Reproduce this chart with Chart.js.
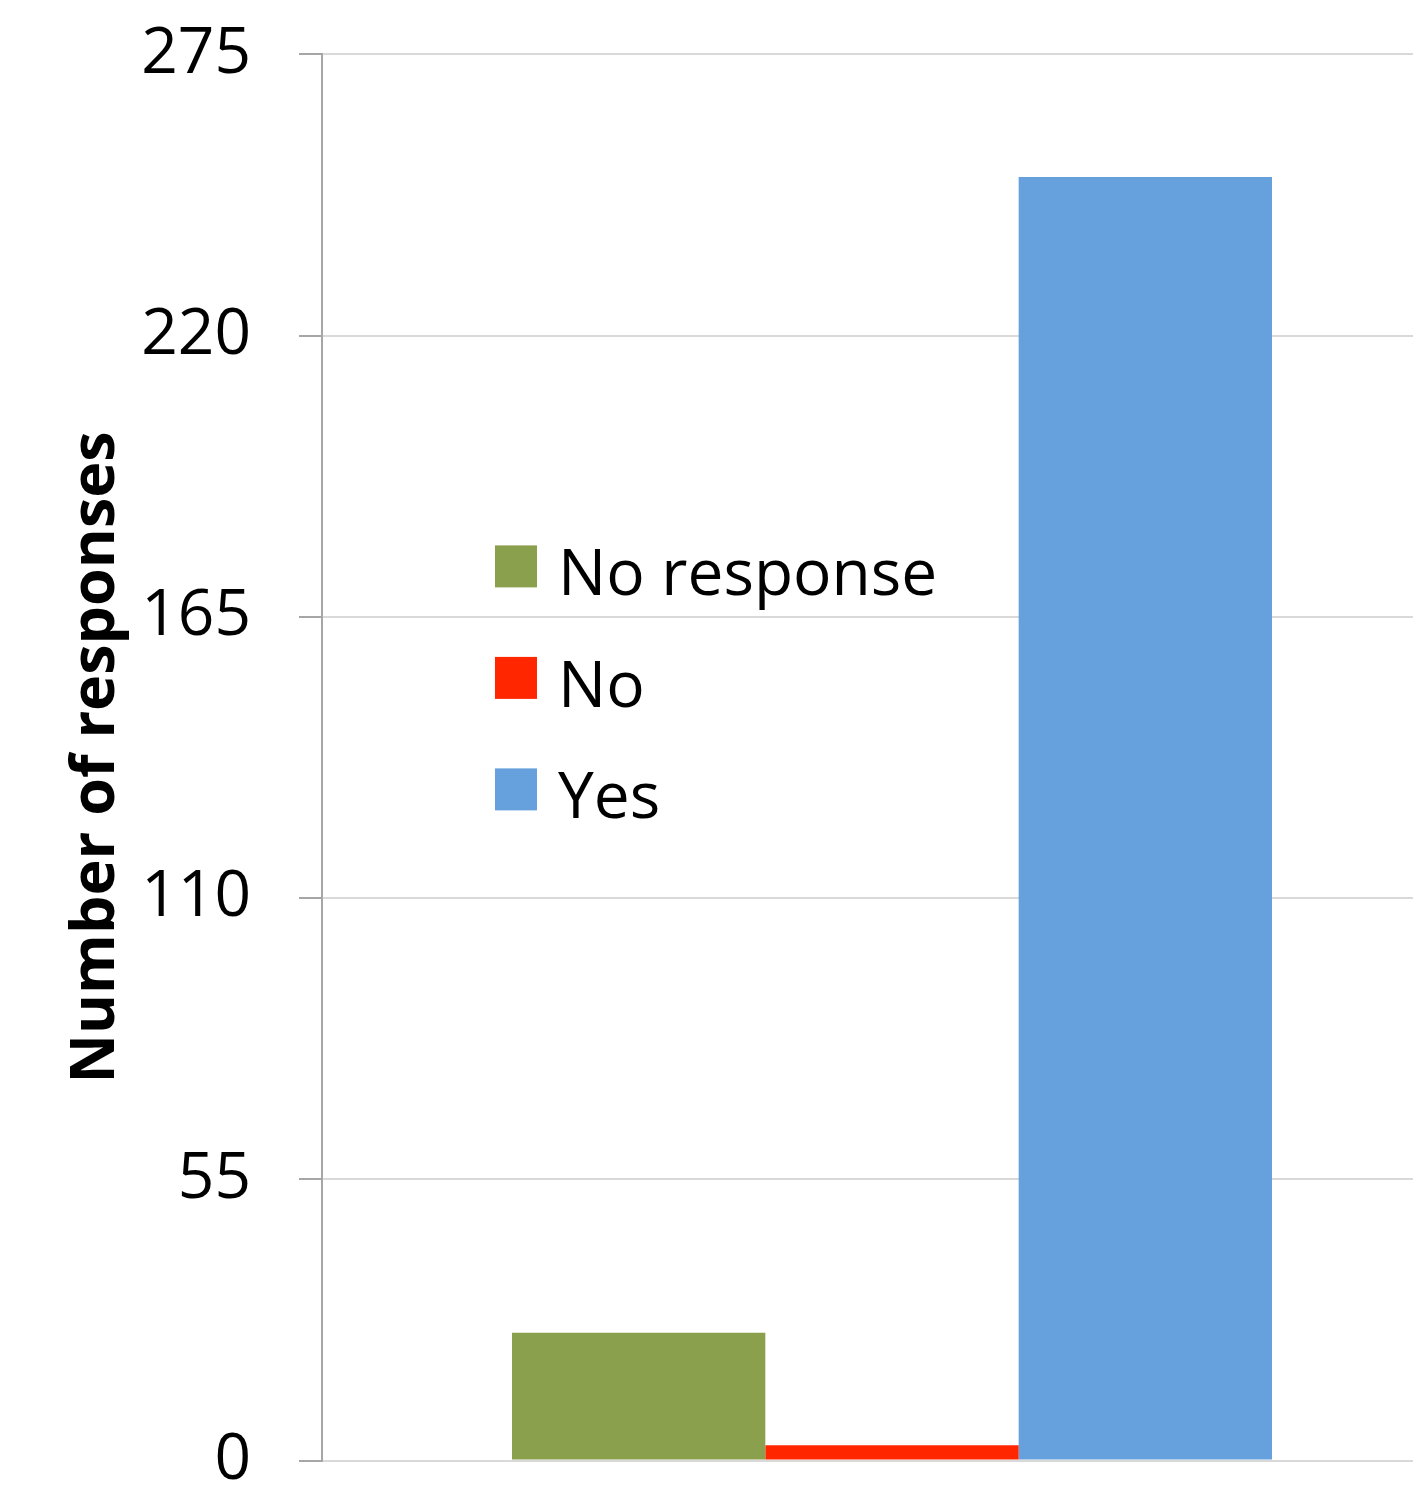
<!DOCTYPE html>
<html>
<head>
<meta charset="utf-8">
<script src="https://cdn.jsdelivr.net/npm/chart.js@4/dist/chart.umd.min.js"></script>
<style>
  html, body { margin: 0; padding: 0; background: #fff; }
  #wrap { width: 1413px; height: 1498px; overflow: hidden; }
  #responsesChart { display: block; margin-top: -32px; }
</style>
</head>
<body>
<div id="wrap"><canvas id="responsesChart" width="1462" height="1579"></canvas></div>
<script>
const categories = [''];
const seriesNames = ['No response', 'No', 'Yes'];
const seriesValues = [[25], [3], [251]];
const seriesColors = ['#8aa04c', '#ff2600', '#66a1de'];
const yTickValues = [0, 55, 110, 165, 220, 275];

const FONT = "'Open Sans', sans-serif";

// legend drawn inside the plot, stacked vertically
const insideLegend = {
    id: 'insideLegend',
    afterDraw(chart) {
        const ctx = chart.ctx;
        const area = chart.chartArea;
        const x = area.left + 173, y0 = area.top + 491, step = 111.5, box = 42;
        ctx.save();
        ctx.font = '64px ' + FONT;
        ctx.textBaseline = 'alphabetic';
        chart.data.datasets.forEach((ds, i) => {
            const y = y0 + i * step;
            ctx.fillStyle = ds.backgroundColor;
            ctx.fillRect(x, y, box, box);
            ctx.fillStyle = '#000';
            ctx.fillText(ds.label, x + 63, y + 50);
        });
        ctx.restore();
    }
};

const ctx = document.getElementById('responsesChart').getContext('2d');

new Chart(ctx, {
    type: 'bar',
    data: {
        labels: categories,
        datasets: seriesNames.map((name, i) => ({
            label: name,
            data: seriesValues[i],
            backgroundColor: seriesColors[i],
            borderWidth: 0,
            categoryPercentage: 2 / 3,
            barPercentage: 1
        }))
    },
    options: {
        responsive: false,
        animation: false,
        layout: { padding: { top: 0, right: 0, bottom: 0, left: 60 } },
        plugins: {
            legend: { display: false },
            tooltip: { enabled: false }
        },
        scales: {
            x: { display: false },
            y: {
                min: 0,
                max: 275,
                afterBuildTicks: scale => {
                    scale.ticks = yTickValues.map(v => ({ value: v }));
                },
                ticks: {
                    font: { family: FONT, size: 64 },
                    color: '#000',
                    padding: 48
                },
                grid: {
                    color: '#d9d9d9',
                    lineWidth: 2,
                    tickLength: 23,
                    tickColor: '#a6a6a6'
                },
                border: { color: '#a6a6a6', width: 2 },
                title: {
                    display: true,
                    text: 'Number of responses',
                    font: { family: FONT, size: 61, weight: 'bold' },
                    color: '#000',
                    padding: { top: 0, bottom: -40 }
                }
            }
        }
    },
    plugins: [insideLegend]
});
</script>
</body>
</html>
